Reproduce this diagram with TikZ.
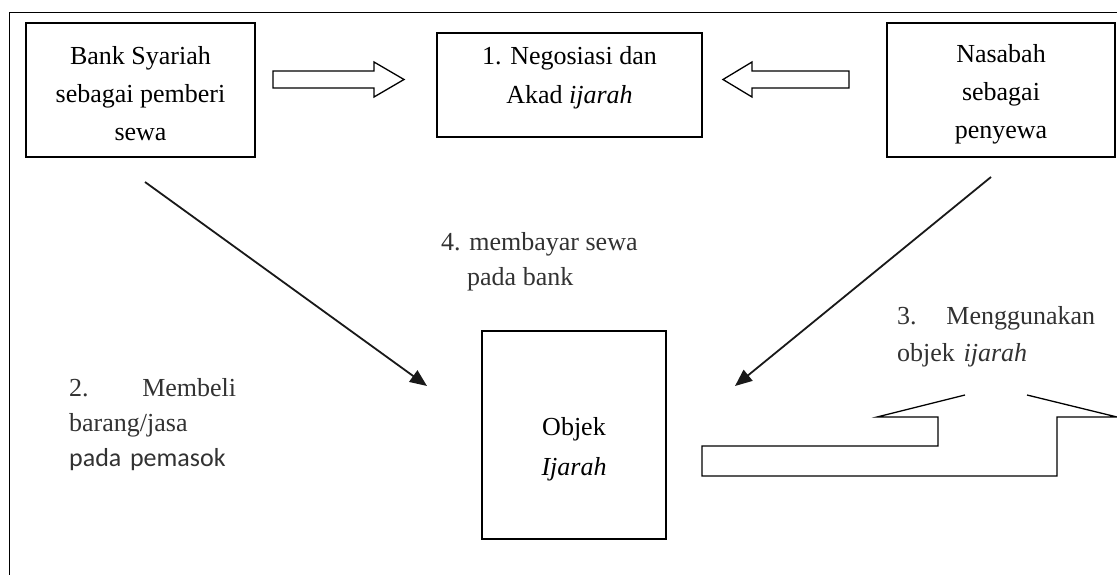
\documentclass[tikz,border=0pt]{standalone}
\usepackage{fontspec}
\setmainfont{Liberation Serif}
\newfontfamily\carlitofont{Carlito}
\usetikzlibrary{arrows.meta}
\definecolor{lblgray}{RGB}{50,50,50}
\begin{document}
\begin{tikzpicture}[x=1pt,y=-1pt,
  box/.style={draw=black, line width=1.3pt, inner sep=0pt},
  boxtext/.style={align=center, inner sep=0pt},
  lbl/.style={text=lblgray, align=left, inner sep=0pt, anchor=north west},
  blockarrow/.style={draw=black, line width=1.3pt, line join=miter},
  diag/.style={draw=black!90, line width=1.8pt, -{Triangle[length=17pt,width=14pt]}}]
\useasboundingbox (0,0) rectangle (1117,575);
\clip (0,0) rectangle (1117,575);
\fill[white] (0,0) rectangle (1117,575);
% outer frame (cut at right and bottom)
\draw[line width=1.4pt] (9.5,640) -- (9.5,12.5) -- (1180,12.5);

% boxes
\node[box, minimum width=229pt, minimum height=134pt] (bank) at (140.5,90) {};
\node[boxtext, font=\fontsize{26}{38}\selectfont] (banktxt) at (140.5,94) {Bank Syariah\\sebagai pemberi\\sewa};

\node[box, minimum width=265pt, minimum height=104pt] (nego) at (569.5,85) {};
\node[boxtext, font=\fontsize{26}{39}\selectfont] (negotxt) at (569.5,78) {1. Negosiasi dan\\Akad \textit{ijarah}};

\node[box, minimum width=228pt, minimum height=134pt] (nasabah) at (1001,90) {};
\node[boxtext, font=\fontsize{26}{38}\selectfont] (nasabahtxt) at (1001,94) {Nasabah\\sebagai\\penyewa};

\node[box, minimum width=184pt, minimum height=208pt] (objek) at (574,435) {};
\node[boxtext, font=\fontsize{26}{40}\selectfont] (objektxt) at (574,449) {Objek\\\textit{Ijarah}};

% block arrows
\draw[blockarrow] (273,71) -- (374,71) -- (374,62) -- (404,79.5) -- (374,97) -- (374,88) -- (273,88) -- cycle;
\draw[blockarrow] (849,71) -- (752,71) -- (752,62) -- (723,79.5) -- (752,97) -- (752,88) -- (849,88) -- cycle;
\draw[blockarrow] (965,395) -- (877,417) -- (938,417) -- (938,446) -- (702,446) -- (702,476)
  -- (1057,476) -- (1057,417) -- (1117,417) -- (1027,395);

% diagonal arrows
\coordinate (d1s) at (145,182);
\coordinate (d1e) at (427,386);
\draw[diag] (d1s) -- (d1e);
\coordinate (d2s) at (991,177);
\coordinate (d2e) at (735,386);
\draw[diag] (d2s) -- (d2e);

% labels
\node[lbl, font=\fontsize{26}{35}\selectfont] (l4) at (441,232) {4. membayar sewa\\\hspace*{26pt}pada bank};
\node[lbl, text width=167pt, font=\fontsize{26}{35}\selectfont] (l2) at (69,378) {2.\hfill Membeli\\barang/jasa\\{\carlitofont pada pemasok}};
\node[lbl, text width=198pt, font=\fontsize{26}{37}\selectfont] (l3) at (897,306) {3.\hfill Menggunakan\\objek \textit{ijarah}};
\end{tikzpicture}
\end{document}
